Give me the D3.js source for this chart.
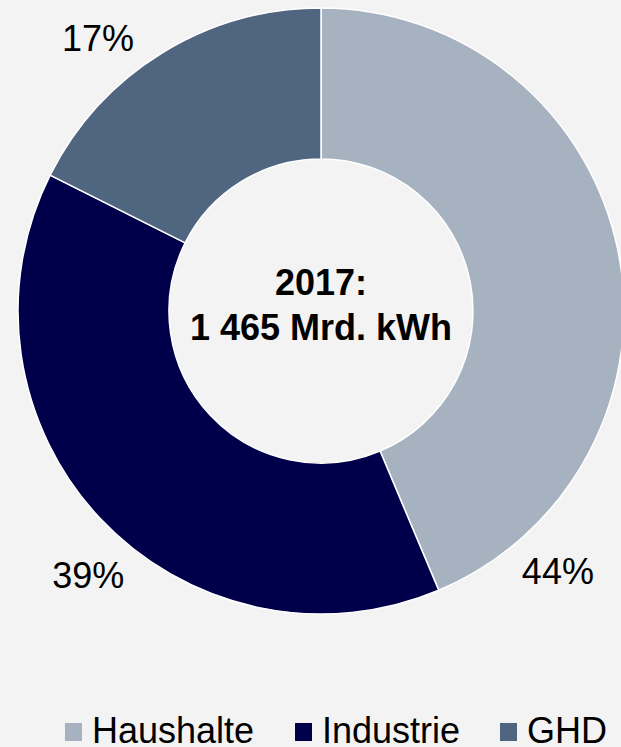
<!DOCTYPE html>
<html>
<head>
<meta charset="utf-8">
<script src="https://cdn.jsdelivr.net/npm/d3@7"></script>
<style>
  html, body { margin: 0; padding: 0; background: #F3F3F3; }
  svg { display: block; }
  text { font-family: "Liberation Sans", Arial, sans-serif; fill: #000; }
</style>
</head>
<body>
<svg id="chart" width="621" height="747"></svg>
<script>
// ---- data ----
const categories = ["Haushalte", "Industrie", "GHD"];
const shares = [43.65, 38.75, 17.6];          // share of total consumption, %
const shareLabels = ["44%", "39%", "17%"];
const centerLines = ["2017:", "1 465 Mrd. kWh"];
const colors = ["#A7B2C0", "#00004A", "#4F6580"];

// ---- layout ----
const W = 621, H = 747;
const cx = 321, cy = 311;
const outerR = 303, innerR = 152;
const labelR = 352;
// label angles (degrees, clockwise from top) as placed by the original
const labelAngles = [137.7, 221.4, 320.7];

const svg = d3.select("#chart");
svg.append("rect").attr("width", W).attr("height", H).attr("fill", "#F3F3F3");

const g = svg.append("g").attr("transform", `translate(${cx},${cy})`);

const data = categories.map((c, i) => ({ name: c, value: shares[i], label: shareLabels[i], color: colors[i] }));

const pie = d3.pie().value(d => d.value).sort(null).startAngle(0).endAngle(2 * Math.PI);
const arc = d3.arc().innerRadius(innerR).outerRadius(outerR);

g.selectAll("path.slice")
  .data(pie(data))
  .join("path")
  .attr("class", "slice")
  .attr("d", arc)
  .attr("fill", d => d.data.color)
  .attr("stroke", "#FFFFFF")
  .attr("stroke-width", 1.5);

// percentage labels
g.selectAll("text.pct")
  .data(pie(data))
  .join("text")
  .attr("class", "pct")
  .attr("x", (d, i) => labelR * Math.sin(labelAngles[i] * Math.PI / 180))
  .attr("y", (d, i) => -labelR * Math.cos(labelAngles[i] * Math.PI / 180))
  .attr("text-anchor", "middle")
  .attr("dominant-baseline", "central")
  .attr("font-size", 36)
  .text(d => d.data.label);

// center text
g.selectAll("text.center")
  .data(centerLines)
  .join("text")
  .attr("class", "center")
  .attr("x", 0)
  .attr("y", (d, i) => -16 + i * 45)
  .attr("text-anchor", "middle")
  .attr("font-size", 36)
  .attr("font-weight", "bold")
  .text(d => d);

// legend
const legendX = [65, 295, 500];
const legend = svg.append("g").attr("class", "legend");
const items = legend.selectAll("g.item")
  .data(data)
  .join("g")
  .attr("class", "item")
  .attr("transform", (d, i) => `translate(${legendX[i]},0)`);
items.append("rect")
  .attr("x", 0).attr("y", 723)
  .attr("width", 17).attr("height", 18)
  .attr("fill", d => d.color);
items.append("text")
  .attr("x", 27).attr("y", 743)
  .attr("font-size", 36)
  .text(d => d.name);
</script>
</body>
</html>
